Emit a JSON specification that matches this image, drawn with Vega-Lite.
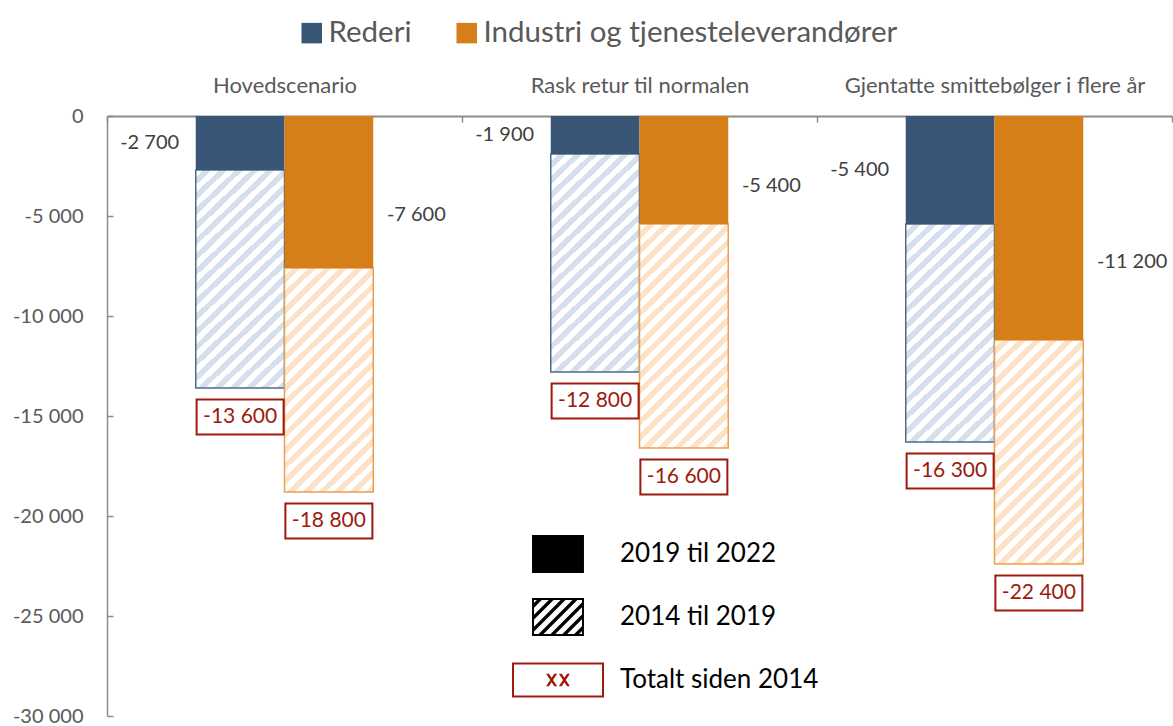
{
  "$schema": "https://vega.github.io/schema/vega-lite/v6.json",
  "width": 1065,
  "height": 600,
  "autosize": {"type": "none"},
  "padding": {"left": 107, "top": 116, "right": 1, "bottom": 10},
  "background": "white",
  "config": {"font": "Lato", "view": {"stroke": null}},
  "datasets": {
    "main": [
      {"scenario": "Hovedscenario", "serie": "Rederi", "endring": -2700, "totalt": -13600},
      {"scenario": "Hovedscenario", "serie": "Industri og tjenesteleverandører", "endring": -7600, "totalt": -18800},
      {"scenario": "Rask retur til normalen", "serie": "Rederi", "endring": -1900, "totalt": -12800},
      {"scenario": "Rask retur til normalen", "serie": "Industri og tjenesteleverandører", "endring": -5400, "totalt": -16600},
      {"scenario": "Gjentatte smittebølger i flere år", "serie": "Rederi", "endring": -5400, "totalt": -16300},
      {"scenario": "Gjentatte smittebølger i flere år", "serie": "Industri og tjenesteleverandører", "endring": -11200, "totalt": -22400}
    ],
    "forklaring": [
      {"periode": "2019 til 2022"},
      {"periode": "2014 til 2019"},
      {"periode": "Totalt siden 2014"}
    ]
  },
  "layer": [
    {
      "data": {"name": "main"},
      "encoding": {
        "x": {
          "field": "scenario", "type": "nominal",
          "sort": ["Hovedscenario", "Rask retur til normalen", "Gjentatte smittebølger i flere år"],
          "scale": {"paddingInner": 0, "paddingOuter": 0},
          "axis": {"orient": "top", "title": null, "domainColor": "#8c8c8c", "domainWidth": 2, "tickColor": "#8c8c8c", "tickWidth": 1.5, "tickSize": -6, "tickBand": "extent", "labelFontSize": 22, "labelColor": "#595959", "labelPadding": 25, "labelAngle": 0, "labelLimit": 0}
        },
        "xOffset": {
          "field": "serie", "type": "nominal",
          "sort": ["Rederi", "Industri og tjenesteleverandører"],
          "scale": {"paddingInner": 0, "paddingOuter": 1.064}
        }
      },
      "layer": [
        {
          "transform": [{"filter": "datum.serie === 'Rederi'"}],
          "mark": {
            "type": "bar", "stroke": "#4F6A8A", "strokeWidth": 1.5,
            "fill": {"gradient": "linear", "x1": 0, "y1": 0, "x2": 0.47, "y2": 1.207, "stops": [
              {"offset":0,"color":"#fff"},{"offset":0.025,"color":"#fff"},{"offset":0.025,"color":"#D5DFEE"},{"offset":0.05,"color":"#D5DFEE"},
              {"offset":0.05,"color":"#fff"},{"offset":0.075,"color":"#fff"},{"offset":0.075,"color":"#D5DFEE"},{"offset":0.1,"color":"#D5DFEE"},
              {"offset":0.1,"color":"#fff"},{"offset":0.125,"color":"#fff"},{"offset":0.125,"color":"#D5DFEE"},{"offset":0.15,"color":"#D5DFEE"},
              {"offset":0.15,"color":"#fff"},{"offset":0.175,"color":"#fff"},{"offset":0.175,"color":"#D5DFEE"},{"offset":0.2,"color":"#D5DFEE"},
              {"offset":0.2,"color":"#fff"},{"offset":0.225,"color":"#fff"},{"offset":0.225,"color":"#D5DFEE"},{"offset":0.25,"color":"#D5DFEE"},
              {"offset":0.25,"color":"#fff"},{"offset":0.275,"color":"#fff"},{"offset":0.275,"color":"#D5DFEE"},{"offset":0.3,"color":"#D5DFEE"},
              {"offset":0.3,"color":"#fff"},{"offset":0.325,"color":"#fff"},{"offset":0.325,"color":"#D5DFEE"},{"offset":0.35,"color":"#D5DFEE"},
              {"offset":0.35,"color":"#fff"},{"offset":0.375,"color":"#fff"},{"offset":0.375,"color":"#D5DFEE"},{"offset":0.4,"color":"#D5DFEE"},
              {"offset":0.4,"color":"#fff"},{"offset":0.425,"color":"#fff"},{"offset":0.425,"color":"#D5DFEE"},{"offset":0.45,"color":"#D5DFEE"},
              {"offset":0.45,"color":"#fff"},{"offset":0.475,"color":"#fff"},{"offset":0.475,"color":"#D5DFEE"},{"offset":0.5,"color":"#D5DFEE"},
              {"offset":0.5,"color":"#fff"},{"offset":0.525,"color":"#fff"},{"offset":0.525,"color":"#D5DFEE"},{"offset":0.55,"color":"#D5DFEE"},
              {"offset":0.55,"color":"#fff"},{"offset":0.575,"color":"#fff"},{"offset":0.575,"color":"#D5DFEE"},{"offset":0.6,"color":"#D5DFEE"},
              {"offset":0.6,"color":"#fff"},{"offset":0.625,"color":"#fff"},{"offset":0.625,"color":"#D5DFEE"},{"offset":0.65,"color":"#D5DFEE"},
              {"offset":0.65,"color":"#fff"},{"offset":0.675,"color":"#fff"},{"offset":0.675,"color":"#D5DFEE"},{"offset":0.7,"color":"#D5DFEE"},
              {"offset":0.7,"color":"#fff"},{"offset":0.725,"color":"#fff"},{"offset":0.725,"color":"#D5DFEE"},{"offset":0.75,"color":"#D5DFEE"},
              {"offset":0.75,"color":"#fff"},{"offset":0.775,"color":"#fff"},{"offset":0.775,"color":"#D5DFEE"},{"offset":0.8,"color":"#D5DFEE"},
              {"offset":0.8,"color":"#fff"},{"offset":0.825,"color":"#fff"},{"offset":0.825,"color":"#D5DFEE"},{"offset":0.85,"color":"#D5DFEE"},
              {"offset":0.85,"color":"#fff"},{"offset":0.875,"color":"#fff"},{"offset":0.875,"color":"#D5DFEE"},{"offset":0.9,"color":"#D5DFEE"},
              {"offset":0.9,"color":"#fff"},{"offset":0.925,"color":"#fff"},{"offset":0.925,"color":"#D5DFEE"},{"offset":0.95,"color":"#D5DFEE"},
              {"offset":0.95,"color":"#fff"},{"offset":0.975,"color":"#fff"},{"offset":0.975,"color":"#D5DFEE"},{"offset":1,"color":"#D5DFEE"}
            ]}
          },
          "encoding": {
            "y": {"field": "endring", "type": "quantitative", "title": null, "scale": {"domain": [-30000, 0], "nice": false},
              "axis": {"orient": "left", "title": null, "values": [0, -5000, -10000, -15000, -20000, -25000, -30000], "grid": false, "domainColor": "#8c8c8c", "domainWidth": 1.5, "tickColor": "#8c8c8c", "tickWidth": 1.5, "tickSize": -6, "labelFontSize": 20, "labelColor": "#595959", "labelPadding": 30, "labelFlush": false, "labelOverlap": false, "labelExpr": "datum.value == 0 ? '0' : '-' + replace(format(-datum.value, ','), ',', ' ')"}},
            "y2": {"field": "totalt"}
          }
        },
        {
          "transform": [{"filter": "datum.serie !== 'Rederi'"}],
          "mark": {
            "type": "bar", "stroke": "#EBA04E", "strokeWidth": 1.5,
            "fill": {"gradient": "linear", "x1": 0, "y1": 0, "x2": 0.47, "y2": 1.207, "stops": [
              {"offset":0,"color":"#fff"},{"offset":0.025,"color":"#fff"},{"offset":0.025,"color":"#FCE3C7"},{"offset":0.05,"color":"#FCE3C7"},
              {"offset":0.05,"color":"#fff"},{"offset":0.075,"color":"#fff"},{"offset":0.075,"color":"#FCE3C7"},{"offset":0.1,"color":"#FCE3C7"},
              {"offset":0.1,"color":"#fff"},{"offset":0.125,"color":"#fff"},{"offset":0.125,"color":"#FCE3C7"},{"offset":0.15,"color":"#FCE3C7"},
              {"offset":0.15,"color":"#fff"},{"offset":0.175,"color":"#fff"},{"offset":0.175,"color":"#FCE3C7"},{"offset":0.2,"color":"#FCE3C7"},
              {"offset":0.2,"color":"#fff"},{"offset":0.225,"color":"#fff"},{"offset":0.225,"color":"#FCE3C7"},{"offset":0.25,"color":"#FCE3C7"},
              {"offset":0.25,"color":"#fff"},{"offset":0.275,"color":"#fff"},{"offset":0.275,"color":"#FCE3C7"},{"offset":0.3,"color":"#FCE3C7"},
              {"offset":0.3,"color":"#fff"},{"offset":0.325,"color":"#fff"},{"offset":0.325,"color":"#FCE3C7"},{"offset":0.35,"color":"#FCE3C7"},
              {"offset":0.35,"color":"#fff"},{"offset":0.375,"color":"#fff"},{"offset":0.375,"color":"#FCE3C7"},{"offset":0.4,"color":"#FCE3C7"},
              {"offset":0.4,"color":"#fff"},{"offset":0.425,"color":"#fff"},{"offset":0.425,"color":"#FCE3C7"},{"offset":0.45,"color":"#FCE3C7"},
              {"offset":0.45,"color":"#fff"},{"offset":0.475,"color":"#fff"},{"offset":0.475,"color":"#FCE3C7"},{"offset":0.5,"color":"#FCE3C7"},
              {"offset":0.5,"color":"#fff"},{"offset":0.525,"color":"#fff"},{"offset":0.525,"color":"#FCE3C7"},{"offset":0.55,"color":"#FCE3C7"},
              {"offset":0.55,"color":"#fff"},{"offset":0.575,"color":"#fff"},{"offset":0.575,"color":"#FCE3C7"},{"offset":0.6,"color":"#FCE3C7"},
              {"offset":0.6,"color":"#fff"},{"offset":0.625,"color":"#fff"},{"offset":0.625,"color":"#FCE3C7"},{"offset":0.65,"color":"#FCE3C7"},
              {"offset":0.65,"color":"#fff"},{"offset":0.675,"color":"#fff"},{"offset":0.675,"color":"#FCE3C7"},{"offset":0.7,"color":"#FCE3C7"},
              {"offset":0.7,"color":"#fff"},{"offset":0.725,"color":"#fff"},{"offset":0.725,"color":"#FCE3C7"},{"offset":0.75,"color":"#FCE3C7"},
              {"offset":0.75,"color":"#fff"},{"offset":0.775,"color":"#fff"},{"offset":0.775,"color":"#FCE3C7"},{"offset":0.8,"color":"#FCE3C7"},
              {"offset":0.8,"color":"#fff"},{"offset":0.825,"color":"#fff"},{"offset":0.825,"color":"#FCE3C7"},{"offset":0.85,"color":"#FCE3C7"},
              {"offset":0.85,"color":"#fff"},{"offset":0.875,"color":"#fff"},{"offset":0.875,"color":"#FCE3C7"},{"offset":0.9,"color":"#FCE3C7"},
              {"offset":0.9,"color":"#fff"},{"offset":0.925,"color":"#fff"},{"offset":0.925,"color":"#FCE3C7"},{"offset":0.95,"color":"#FCE3C7"},
              {"offset":0.95,"color":"#fff"},{"offset":0.975,"color":"#fff"},{"offset":0.975,"color":"#FCE3C7"},{"offset":1,"color":"#FCE3C7"}
            ]}
          },
          "encoding": {
            "y": {"field": "endring", "type": "quantitative", "title": null},
            "y2": {"field": "totalt"}
          }
        },
        {
          "mark": {"type": "bar"},
          "encoding": {
            "y": {"field": "endring", "type": "quantitative", "title": null},
            "y2": {"datum": 0},
            "color": {
              "field": "serie", "type": "nominal",
              "sort": ["Rederi", "Industri og tjenesteleverandører"],
              "scale": {"domain": ["Rederi", "Industri og tjenesteleverandører"], "range": ["#3A5676", "#D67E17"]},
              "legend": {"orient": "none", "legendX": 190, "legendY": -98, "direction": "horizontal", "title": null, "symbolType": "square", "symbolSize": 420, "symbolStrokeWidth": 0, "labelFontSize": 29.5, "labelColor": "#595959", "labelOffset": 2, "columnPadding": 40, "labelLimit": 0}
            }
          }
        },
        {
          "transform": [
            {"filter": "datum.serie === 'Rederi'"},
            {"calculate": "'-' + replace(format(-datum.endring, ','), ',', ' ')", "as": "lbl"},
            {"calculate": "datum.endring * 0.5", "as": "lblpos"}
          ],
          "mark": {"type": "text", "align": "right", "baseline": "middle", "dx": -61, "fontSize": 20, "color": "#404040"},
          "encoding": {
            "y": {"field": "lblpos", "type": "quantitative", "title": null},
            "text": {"field": "lbl"}
          }
        },
        {
          "transform": [
            {"filter": "datum.serie !== 'Rederi'"},
            {"calculate": "'-' + replace(format(-datum.endring, ','), ',', ' ')", "as": "lbl"},
            {"calculate": "datum.endring * 0.65", "as": "lblpos"}
          ],
          "mark": {"type": "text", "align": "left", "baseline": "middle", "dx": 58, "fontSize": 20, "color": "#404040"},
          "encoding": {
            "y": {"field": "lblpos", "type": "quantitative", "title": null},
            "text": {"field": "lbl"}
          }
        },
        {
          "mark": {"type": "point", "shape": "M-1,-0.4H1V0.4H-1Z", "size": 7569, "filled": true, "fill": "white", "stroke": "#9C1B0D", "strokeWidth": 2, "opacity": 1, "yOffset": 29},
          "encoding": {
            "y": {"field": "totalt", "type": "quantitative", "title": null}
          }
        },
        {
          "transform": [
            {"calculate": "'-' + replace(format(-datum.totalt, ','), ',', ' ')", "as": "tlbl"}
          ],
          "mark": {"type": "text", "align": "center", "baseline": "middle", "yOffset": 29, "fontSize": 21, "color": "#9C1B0D"},
          "encoding": {
            "y": {"field": "totalt", "type": "quantitative", "title": null},
            "text": {"field": "tlbl"}
          }
        }
      ]
    },
    {
      "data": {"name": "forklaring"},
      "mark": {"type": "point", "filled": true, "opacity": 0},
      "encoding": {
        "fill": {
          "field": "periode", "type": "nominal",
          "sort": ["2019 til 2022", "2014 til 2019", "Totalt siden 2014"],
          "scale": {
            "domain": ["2019 til 2022", "2014 til 2019", "Totalt siden 2014"],
            "range": ["#000000", "#000000", "#9C1B0D"]
          },
          "legend": {
            "orient": "none", "legendX": 407, "legendY": 394, "direction": "vertical", "title": null,
            "symbolSize": 7744, "symbolStrokeWidth": 0, "symbolOpacity": 1,
            "labelFontSize": 26, "labelColor": "black", "labelOffset": 18, "rowPadding": 0, "labelLimit": 0
          }
        },
        "shape": {
          "field": "periode", "type": "nominal",
          "sort": ["2019 til 2022", "2014 til 2019", "Totalt siden 2014"],
          "scale": {
            "domain": ["2019 til 2022", "2014 til 2019", "Totalt siden 2014"],
            "range": [
              "M-0.59,-0.43H0.59V0.43H-0.59Z",
              "M-0.59,-0.43H0.59V0.43H-0.59Z M-0.545,-0.385V0.385H0.545V-0.385Z M-0.59,-0.275L-0.435,-0.43L-0.325,-0.43L-0.59,-0.165Z M-0.59,-0.005L-0.165,-0.43L-0.055,-0.43L-0.59,0.105Z M-0.59,0.265L0.105,-0.43L0.215,-0.43L-0.59,0.375Z M0.375,-0.43L0.485,-0.43L-0.375,0.43L-0.485,0.43Z M0.59,-0.375L0.59,-0.265L-0.105,0.43L-0.215,0.43Z M0.59,-0.105L0.59,0.005L0.165,0.43L0.055,0.43Z M0.59,0.165L0.59,0.275L0.435,0.43L0.325,0.43Z",
              "M-1.045,-0.398H1.045V0.398H-1.045Z M-1,-0.353V0.353H1V-0.353Z M-0.27,-0.14L-0.205,-0.14L-0.02,0.14L-0.085,0.14Z M-0.085,-0.14L-0.02,-0.14L-0.205,0.14L-0.27,0.14Z M0.02,-0.14L0.085,-0.14L0.27,0.14L0.205,0.14Z M0.205,-0.14L0.27,-0.14L0.085,0.14L0.02,0.14Z"
            ]
          },
          "legend": {
            "orient": "none", "legendX": 407, "legendY": 394, "direction": "vertical", "title": null,
            "symbolSize": 7744, "symbolStrokeWidth": 0, "symbolOpacity": 1,
            "labelFontSize": 26, "labelColor": "black", "labelOffset": 18, "rowPadding": 0, "labelLimit": 0
          }
        }
      }
    }
  ]
}
